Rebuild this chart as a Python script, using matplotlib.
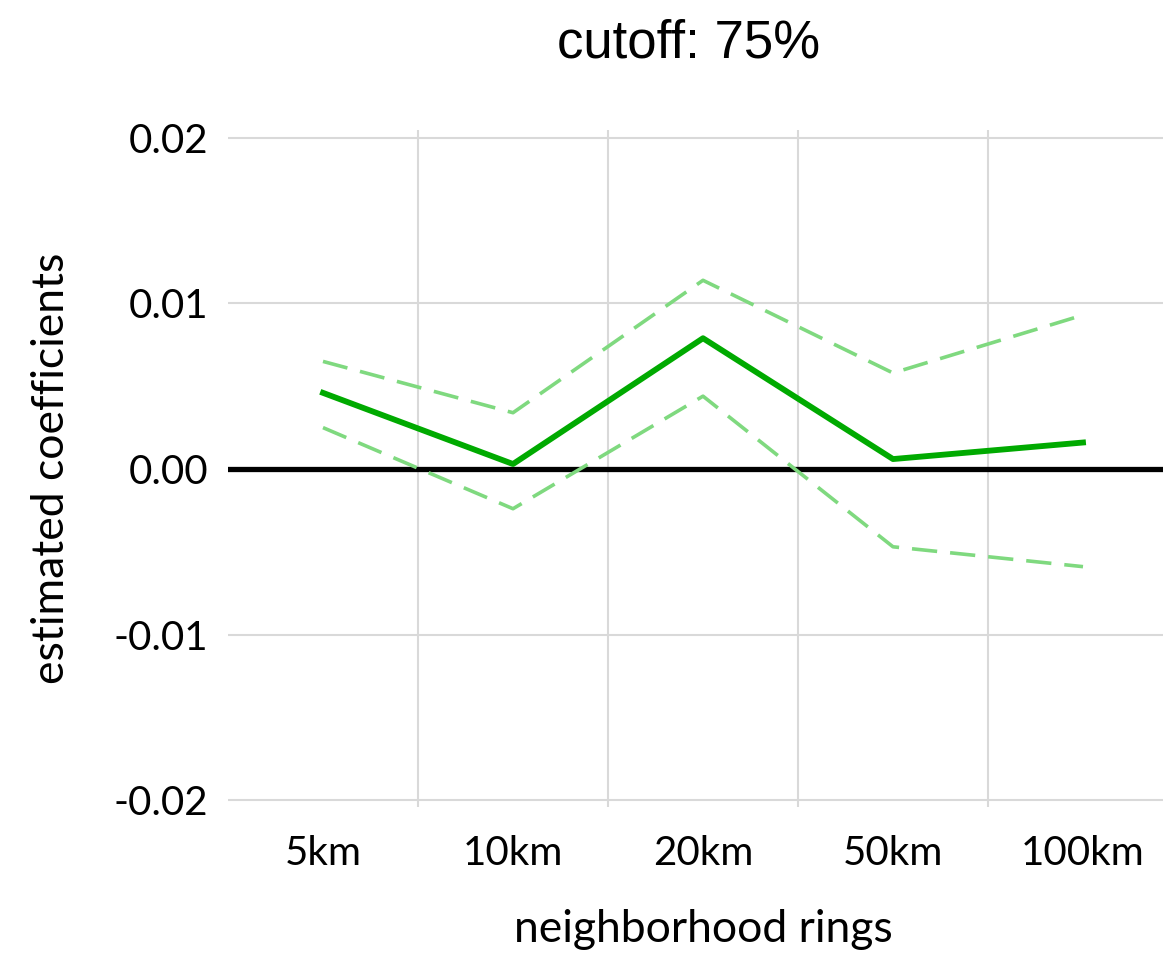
import matplotlib.pyplot as plt

rings = ['5km', '10km', '20km', '50km', '100km']
coef = [0.0046, 0.0003, 0.0079, 0.0006, 0.0016]
upper = [0.0065, 0.0034, 0.0114, 0.0058, 0.0093]
lower = [0.0025, -0.0024, 0.0044, -0.0047, -0.0059]
yticks = [-0.02, -0.01, 0.00, 0.01, 0.02]

fig = plt.figure(figsize=(11.63, 9.55), dpi=100)
ax = fig.add_axes([228 / 1163, 148 / 955, 950 / 1163, 677 / 955])

x = range(len(rings))

# light grid: horizontal at value ticks, vertical between categories
for v in yticks:
    ax.axhline(v, color='#d9d9d9', lw=1.5, zorder=0)
for b in [0.5, 1.5, 2.5, 3.5]:
    ax.axvline(b, color='#d9d9d9', lw=1.5, zorder=0)
ax.axhline(0, color='black', lw=3.8, zorder=1)

ax.plot(x, upper, color='#7fd97f', lw=2.6, dashes=(7, 3.6), zorder=2)
ax.plot(x, lower, color='#7fd97f', lw=2.6, dashes=(7, 3.6), zorder=2)
ax.plot(x, coef, color='#00aa00', lw=4.2, zorder=3)

ax.set_xlim(-0.5, 4.5)
ax.set_ylim(-0.02042, 0.02048)
ax.set_xticks(list(x))
ax.set_xticklabels(rings)
ax.set_yticks(yticks)
ax.set_yticklabels(['-0.02', '-0.01', '0.00', '0.01', '0.02'])
ax.tick_params(length=0, labelsize=29)
ax.tick_params(axis='x', pad=20)
ax.tick_params(axis='y', pad=14)
for lab in ax.get_xticklabels() + ax.get_yticklabels():
    lab.set_fontfamily('Lato')
for s in ax.spines.values():
    s.set_visible(False)

ax.set_xlabel('neighborhood rings', fontsize=32, family='Lato', labelpad=27)
ax.set_ylabel('estimated coefficients', fontsize=32, family='Lato', labelpad=30)
fig.text(689 / 1163, 1 - 44 / 955, 'cutoff: 75%', fontsize=38,
         family='Liberation Sans', ha='center', va='center')

fig.savefig('out.png', dpi=100)
